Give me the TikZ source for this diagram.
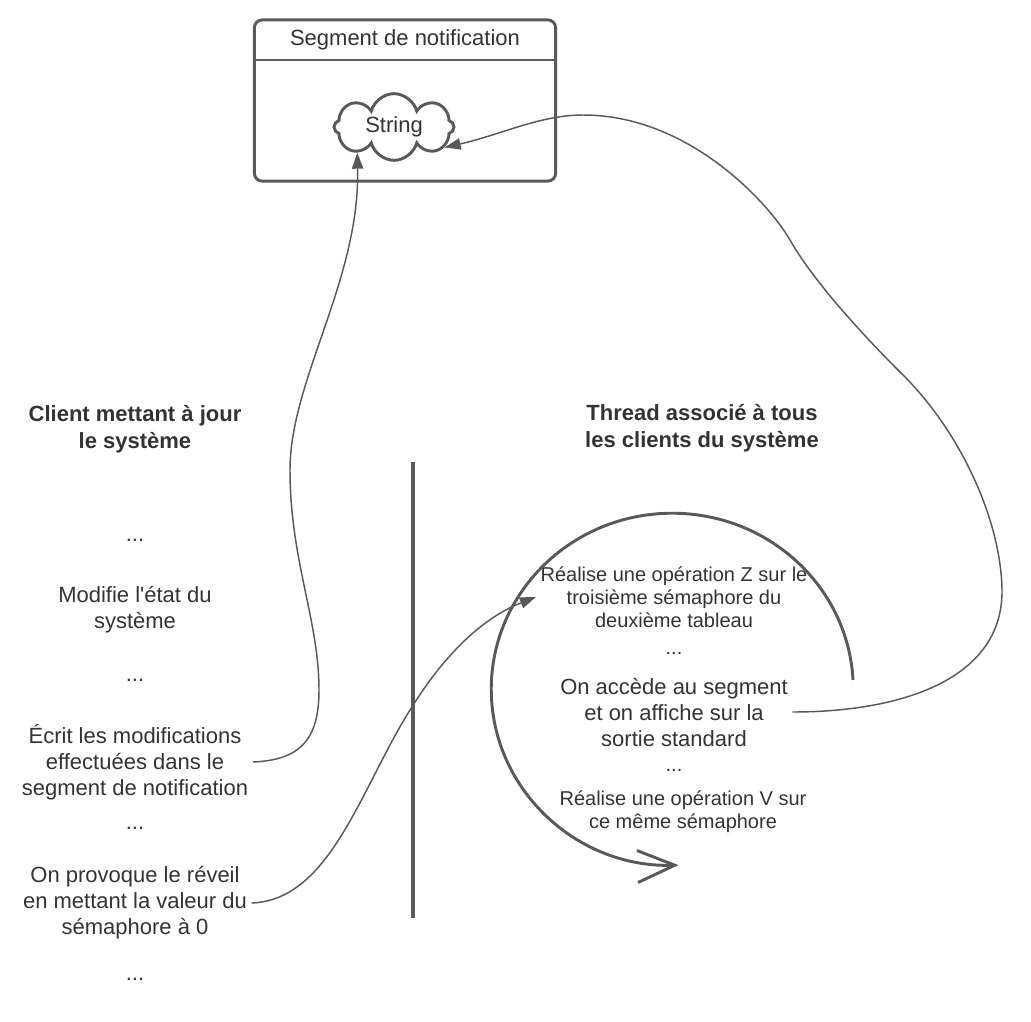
\documentclass[tikz,border=0pt]{standalone}
\usepackage{fontspec}
\setmainfont{Liberation Sans}
\usetikzlibrary{shapes.symbols,arrows.meta}
\definecolor{linegray}{HTML}{595959}
\definecolor{textgray}{HTML}{333333}

\begin{document}
\begin{tikzpicture}[x=0.75pt,y=-0.75pt,
    txt/.style={align=center,text=textgray,font=\fontsize{16.5}{19.5}\selectfont},
    smalltxt/.style={align=center,text=textgray,font=\fontsize{15}{17.25}\selectfont},
    title/.style={align=center,text=textgray,font=\fontsize{16.5}{20.5}\selectfont\bfseries},
    link/.style={draw=linegray,line width=1.1pt,-{Triangle[length=12pt,width=8.5pt]}},
    frame/.style={draw=linegray,line width=2.2pt}]
\useasboundingbox (0,0) rectangle (1031,1021);

% shared segment
\node [frame,rounded corners=6pt,minimum width=226pt,minimum height=121pt] (segbox) at (405,100.5) {};
\node [txt] (segtitle) at (405,40) {Segment de notification};
\draw [draw=linegray,line width=1.5pt] ([yshift=-31pt]segbox.north west) -- ([yshift=-31pt]segbox.north east);
\node [frame,cloud,cloud puffs=8,cloud ignores aspect,minimum width=90pt,minimum height=50pt,txt] (string) at (394,127) {String};

% client side
\node [title] (client)  at (135,429) {Client mettant à jour\\ le système};
\node [txt]   (dots1)   at (135,540) {...};
\node [txt]   (modif)   at (135,610) {Modifie l\textquotesingle état du\\ système};
\node [txt]   (dots2)   at (135,680) {...};
\node [txt]   (ecrit)   at (135,762) {Écrit les modifications\\ effectuées dans le\\ segment de notification};
\node [txt]   (dots3)   at (135,828) {...};
\node [txt]   (reveil)  at (135,903) {On provoque le réveil\\ en mettant la valeur du\\ sémaphore à 0};
\node [txt]   (dots4)   at (135,979) {...};

\draw [draw=linegray,line width=3pt] (413,462) -- (413,918);

% thread side
\node [title]    (thread) at (702,428) {Thread associé à tous\\ les clients du système};
\node [smalltxt] (opZ)    at (674,597) {Réalise une opération Z sur le\\ troisième sémaphore du\\ deuxième tableau};
\node [smalltxt] (dotsA)  at (674,653) {...};
\node [txt]      (acces)  at (674,712) {On accède au segment\\ et on affiche sur la\\ sortie standard};
\node [smalltxt] (dotsB)  at (674,770) {...};
\node [smalltxt] (opV)    at (683,812) {Réalise une opération V sur\\ ce même sémaphore};

\draw [frame,-{Straight Barb[length=28pt,width=24pt]}] (853,680)
    arc [start angle=3,end angle=272,x radius=135.75pt,y radius=132pt];

\draw [link] (ecrit.east) .. controls (300,760) and (319,740) .. (319,690)
    .. controls (319,620) and (290,560) .. (290,470)
    .. controls (290,380) and (360,280) .. (string.-145);
\draw [link] (reveil.east) .. controls (330,900) and (360,790) .. (410,710)
    .. controls (450,645) and (490,615) .. (opZ.west);
\draw [link] (acces.east) .. controls (900,712) and (1003,680) .. (1002,590)
    .. controls (1001,520) and (960,430) .. (900,372)
    .. controls (850,322) and (810,275) .. (790,240)
    .. controls (770,205) and (690,115) .. (583,115)
    .. controls (540,115) and (500,135) .. (string.-22);
\end{tikzpicture}
\end{document}
